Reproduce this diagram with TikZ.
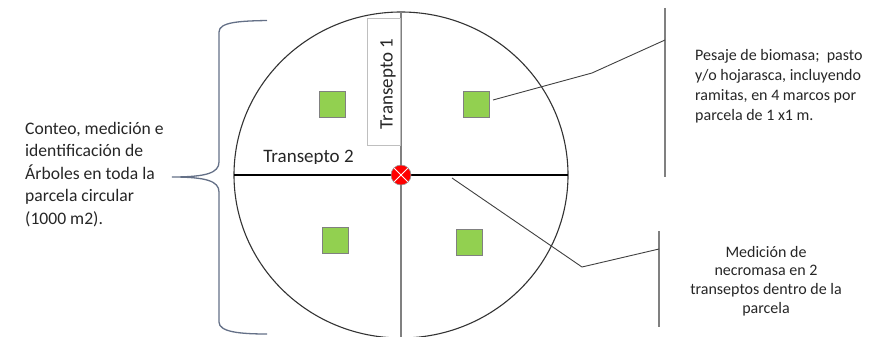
\documentclass[tikz,border=0pt]{standalone}
\usepackage{fontspec}
\setmainfont{Carlito}
\definecolor{sqgreen}{HTML}{92D050}
\definecolor{bracecol}{RGB}{100,112,135}
\definecolor{markred}{HTML}{FF0000}
\begin{document}
\begin{tikzpicture}[x=1pt,y=-1pt,
  sq/.style={draw=black!50, fill=sqgreen, minimum size=26pt, inner sep=0pt, line width=0.8pt},
  txt/.style={inner sep=0pt, text=black!85},
  callout/.style={draw=black!75, line width=0.9pt},
  bar/.style={draw=black!50, line width=1.5pt},
]
\useasboundingbox (0,0) rectangle (886,337);
\clip (0,0) rectangle (886,337);
\coordinate (C) at (401,175);
% plot circle
\draw[black!80, line width=1.1pt] (C) ellipse [x radius=167pt, y radius=163pt];
% transects
\coordinate (t1top) at (401,12);
\coordinate (t1bot) at (401,340);
\coordinate (t2l) at (234,175);
\coordinate (t2r) at (568,175);
\draw[black!50, line width=2pt] (t1top) -- (t1bot);
\draw[black, line width=1.4pt] (t2l) -- (t2r);
% Transepto 1 box
\node (t1box) [draw=black!25, line width=0.6pt, fill=white, minimum width=33pt, minimum height=127pt, inner sep=0pt, anchor=north east] at (401,18) {};
\node (t1) [txt, rotate=90, font=\fontsize{19}{22}\selectfont] at (388,84) {Transepto 1};
% Transepto 2 label (bottom cut)
\begin{scope}
\clip (250,130) rectangle (370,163.5);
\node (t2) [txt, anchor=base, font=\fontsize{19}{22}\selectfont] at (308.5,162) {Transepto 2};
\end{scope}
% frames
\node (sq1) [sq] at (332.5,104.5) {};
\node (sq2) [sq] at (476,104.5) {};
\node (sq3) [sq] at (335,240) {};
\node (sq4) [sq] at (469.5,242.5) {};
% centre marker
\node (ctr) [circle, fill=markred, draw=black!40, line width=0.6pt, minimum size=20pt, inner sep=0pt,
  path picture={\draw[white, line width=0.8pt]
    (path picture bounding box.north west) -- (path picture bounding box.south east)
    (path picture bounding box.north east) -- (path picture bounding box.south west);}] at (C) {};
% brace
\coordinate (brtop) at (267,20.5);
\coordinate (brtip) at (172,177);
\coordinate (brbot) at (267,334);
\draw[bracecol, line width=1.3pt]
  (brtop) .. controls (240,21) and (219,22) .. (219,32)
  -- (219,162) .. controls (219,173) and (206,177) .. (brtip)
  .. controls (206,177) and (219,181) .. (219,192)
  -- (219,322) .. controls (219,332) and (240,334) .. (brbot);
% left text
\node (lt) [txt, anchor=west, align=left, font=\fontsize{17.6}{22.6}\selectfont] at (25,174.5)
  {Conteo, medición e\\identificación de\\Árboles en toda la\\parcela circular\\(1000 m2).};
% callout 1
\coordinate (c1s) at (493,100);
\coordinate (c1m) at (592,73);
\coordinate (c1e) at (665,40);
\coordinate (b1t) at (665,8);
\coordinate (b1b) at (665,177);
\draw[bar] (b1t) -- (b1b);
\draw[callout] (c1s) -- (c1m) -- (c1e);
\node (rt1) [txt, anchor=west, align=left, font=\fontsize{16}{20}\selectfont] at (695,86)
  {Pesaje de biomasa;~ pasto\\y/o hojarasca, incluyendo\\ramitas, en 4 marcos por\\parcela de 1 x1 m.};
% callout 2
\coordinate (c2s) at (452,178);
\coordinate (c2m) at (582,267);
\coordinate (c2e) at (659,249);
\coordinate (b2t) at (659,231);
\coordinate (b2b) at (659,327);
\draw[bar] (b2t) -- (b2b);
\draw[callout] (c2s) -- (c2m) -- (c2e);
\node (rt2) [txt, align=center, font=\fontsize{16}{18.7}\selectfont] at (766,281)
  {Medición de\\necromasa en 2\\transeptos dentro de la\\parcela};
\end{tikzpicture}
\end{document}
